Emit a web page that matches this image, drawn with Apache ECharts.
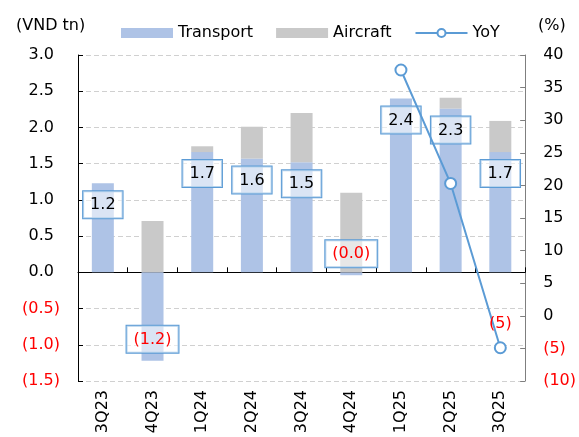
<!DOCTYPE html>
<html>
<head>
<meta charset="utf-8">
<script src="https://cdn.jsdelivr.net/npm/echarts@6/dist/echarts.min.js"></script>
<style>
  html, body { margin: 0; padding: 0; background: #fff; }
  #main { width: 579px; height: 437px; }
</style>
</head>
<body>
<div id="main"></div>
<script>
// quarters on the x axis
var quarters = ["3Q23", "4Q23", "1Q24", "2Q24", "3Q24", "4Q24", "1Q25", "2Q25", "3Q25"];
// VND tn
var transport = [1.23, -1.22, 1.66, 1.57, 1.52, -0.04, 2.40, 2.26, 1.66];
var aircraft = [0.00, 0.71, 0.08, 0.44, 0.68, 1.10, 0.00, 0.15, 0.43];
// YoY %, only the last three quarters
var yoy = [null, null, null, null, null, null, 37.7, 20.3, -4.9];

var FONT = "DejaVu Sans";
var RED = "#ff0000";
var BLUE = "#5b9bd5";

function paren(v, digits) {
  var s = Math.abs(v).toFixed(digits);
  return v < 0 ? "(" + s + ")" : s;
}

var myChart = echarts.init(document.getElementById("main"));

var transportData = transport.map(function(v) {
  return { value: v, label: { position: v < 0 ? "insideBottom" : "insideTop" } };
});
var yoyData = yoy.map(function(v, i) {
  if (v == null) return "-";
  return { value: v, label: { show: i == yoy.length - 1 } };
});

var option = {
  animation: false,
  textStyle: { fontFamily: FONT },
  title: [
    { text: "(VND tn)", left: 11, top: 13, textStyle: { fontFamily: FONT, fontSize: 16, fontWeight: "normal", color: "#000" } },
    { text: "(%)", left: 533, top: 13, textStyle: { fontFamily: FONT, fontSize: 16, fontWeight: "normal", color: "#000" } }
  ],
  legend: {
    left: 116,
    top: 20,
    itemWidth: 52,
    itemHeight: 10,
    itemGap: 23,
    textStyle: { fontFamily: FONT, fontSize: 16, color: "#000" },
    data: [
      { name: "Transport", icon: "rect" },
      { name: "Aircraft", icon: "rect" },
      { name: "YoY" }
    ]
  },
  grid: { left: 78, right: 51, top: 55, bottom: 56 },
  xAxis: [
    {
      type: "category",
      data: quarters,
      axisLine: { onZero: true, lineStyle: { color: "#000", width: 1 } },
      axisTick: { show: true, inside: true, length: 5, lineStyle: { color: "#000" } },
      axisLabel: { show: false }
    },
    {
      type: "category",
      data: quarters,
      position: "bottom",
      axisLine: { show: false, onZero: false },
      axisTick: { show: false },
      axisLabel: { rotate: 90, margin: 9, fontFamily: FONT, fontSize: 16, color: "#000" }
    }
  ],
  yAxis: [
    {
      type: "value",
      min: -1.5,
      max: 3,
      interval: 0.5,
      axisLine: { show: true, lineStyle: { color: "#000" } },
      axisTick: { show: true, inside: true, length: 5, lineStyle: { color: "#000" } },
      splitLine: { show: true, lineStyle: { color: "#d0d0d0", type: [5, 3], width: 1 } },
      axisLabel: {
        margin: 18,
        fontFamily: FONT,
        fontSize: 16,
        formatter: function(v) {
          return v < 0 ? "{n|" + paren(v, 1) + "}" : "{p|" + paren(v, 1) + "}";
        },
        rich: {
          p: { fontFamily: FONT, fontSize: 16, color: "#000", padding: [0, 6, 0, 0] },
          n: { fontFamily: FONT, fontSize: 16, color: RED }
        }
      }
    },
    {
      type: "value",
      min: -10,
      max: 40,
      interval: 5,
      position: "right",
      axisLine: { show: true, lineStyle: { color: "#7f7f7f" } },
      axisTick: { show: true, inside: true, length: 5, lineStyle: { color: "#7f7f7f" } },
      splitLine: { show: false },
      axisLabel: {
        margin: 18,
        fontFamily: FONT,
        fontSize: 16,
        formatter: function(v) {
          return v < 0 ? "{n|" + paren(v, 0) + "}" : "{p|" + paren(v, 0) + "}";
        },
        rich: {
          p: { fontFamily: FONT, fontSize: 16, color: "#000" },
          n: { fontFamily: FONT, fontSize: 16, color: RED }
        }
      }
    }
  ],
  series: [
    {
      name: "Transport",
      type: "bar",
      stack: "total",
      barWidth: 22,
      itemStyle: { color: "#aec3e6" },
      data: transportData,
      label: {
        show: true,
        distance: 8,
        backgroundColor: "rgba(255,255,255,0.55)",
        borderColor: BLUE,
        borderWidth: 1,
        padding: [5, 7, 4, 7],
        formatter: function(p) {
          return p.value < 0 ? "{n|" + paren(p.value, 1) + "}" : "{p|" + paren(p.value, 1) + "}";
        },
        rich: {
          p: { fontFamily: FONT, fontSize: 16, color: "#000", lineHeight: 18 },
          n: { fontFamily: FONT, fontSize: 16, color: RED, lineHeight: 18 }
        }
      }
    },
    {
      name: "Aircraft",
      type: "bar",
      stack: "total",
      barWidth: 22,
      itemStyle: { color: "#c9c9c9" },
      data: aircraft
    },
    {
      name: "YoY",
      type: "line",
      yAxisIndex: 1,
      z: 5,
      symbol: "emptyCircle",
      symbolSize: 11,
      itemStyle: { color: BLUE, borderWidth: 2 },
      lineStyle: { color: BLUE, width: 2 },
      data: yoyData,
      label: {
        show: false,
        position: "top",
        distance: 9,
        fontFamily: FONT,
        fontSize: 16,
        color: RED,
        formatter: function(p) {
          return paren(p.value, 0);
        }
      }
    }
  ]
};

myChart.setOption(option);
</script>
</body>
</html>
